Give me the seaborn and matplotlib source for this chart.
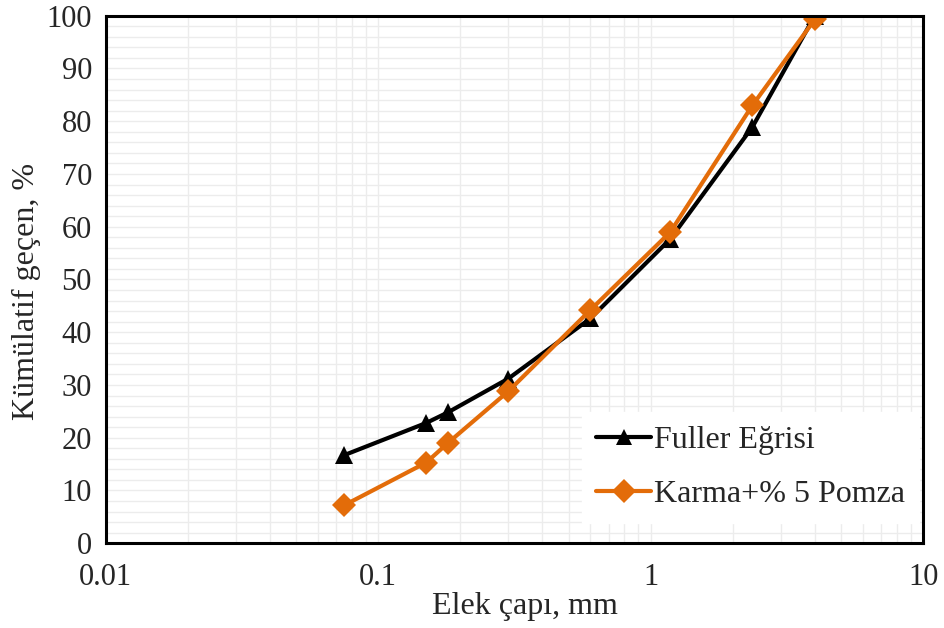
import seaborn as sns
import matplotlib.pyplot as plt
import matplotlib.ticker as mticker
import pandas as pd

# Sieve sizes (mm) and cumulative passing (%)
elek = [0.075, 0.15, 0.18, 0.3, 0.6, 1.18, 2.36, 4.0]
fuller = [16.7, 22.8, 24.8, 31.2, 42.6, 57.7, 78.9, 100.0]
karma = [7.2, 15.3, 19.0, 28.8, 44.2, 59.0, 83.0, 99.3]

series_names = ['Fuller Eğrisi', 'Karma+% 5 Pomza']

df = pd.concat([
    pd.DataFrame({'elek': elek, 'gecen': fuller, 'seri': series_names[0]}),
    pd.DataFrame({'elek': elek, 'gecen': karma, 'seri': series_names[1]}),
])

sns.set_style('white')
plt.rcParams['font.family'] = ['Liberation Serif', 'DejaVu Serif']

fig, ax = plt.subplots(figsize=(9.45, 6.28), dpi=100)
fig.subplots_adjust(left=0.112, right=0.977, top=0.975, bottom=0.135)

sns.lineplot(data=df, x='elek', y='gecen', hue='seri', style='seri',
             palette=['black', '#e36c09'], markers=['^', 'D'], dashes=False,
             markersize=12.5, linewidth=3, markeredgewidth=0, ax=ax, zorder=3)

ax.set_xscale('log')
ax.set_xlim(0.01, 10)
ax.set_ylim(0, 100)
ax.xaxis.set_major_formatter(mticker.FuncFormatter(lambda v, p: f'{v:g}'))
ax.yaxis.set_major_locator(mticker.MultipleLocator(10))
ax.yaxis.set_minor_locator(mticker.MultipleLocator(2))
ax.xaxis.set_minor_locator(mticker.LogLocator(base=10, subs=range(2, 10)))
ax.xaxis.set_minor_formatter(mticker.NullFormatter())

ax.grid(True, which='both', color='#ececec', linewidth=1, zorder=0)
ax.set_axisbelow(True)
for s in ax.spines.values():
    s.set_color('black')
    s.set_linewidth(2.2)
    s.set_zorder(6)

ax.tick_params(axis='x', which='both', direction='out', length=6, width=1,
               color='#a0a0a0', labelsize=22, pad=6)
ax.tick_params(axis='x', which='major', length=8)
ax.tick_params(axis='y', which='both', length=0, labelsize=22, pad=10)

ax.set_xlabel('Elek çapı, mm', fontsize=23, labelpad=0)
ax.set_ylabel('Kümülatif geçen, %', fontsize=23, labelpad=4)
ax.xaxis.label.set_x(0.513)
ax.yaxis.label.set_y(0.477)

leg = ax.legend(title=None, loc='lower right', bbox_to_anchor=(0.999, 0.032),
                fontsize=23, frameon=True, fancybox=False, framealpha=1,
                edgecolor='white', handlelength=1.7, handletextpad=0.1,
                labelspacing=0.75, borderpad=0.45, borderaxespad=0.1)
for h in leg.legend_handles:
    h.set_markersize(12)
    h.set_linewidth(3)

fig.savefig('out.png', dpi=100)
